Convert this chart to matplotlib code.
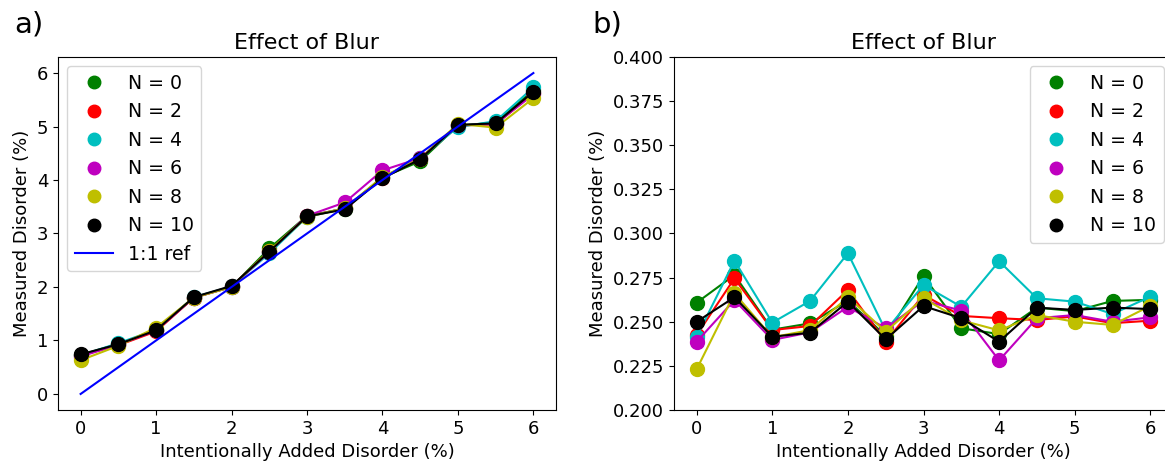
import numpy as np
import matplotlib
matplotlib.use("Agg")
import matplotlib.pyplot as plt

plt.rcParams['font.size'] = 13

# added disorder (%)
added = [0, 0.5, 1, 1.5, 2, 2.5, 3, 3.5, 4, 4.5, 5, 5.5, 6]
n_values = [0, 2, 4, 6, 8, 10]
colors = ['g', 'r', 'c', 'm', 'y', 'k']

# a) measured disorder, full range
meas_n0 = [0.73, 0.93, 1.20, 1.80, 2.00, 2.72, 3.33, 3.46, 4.05, 4.35, 5.02, 5.07, 5.68]
meas_n2 = [0.72, 0.91, 1.17, 1.80, 2.01, 2.67, 3.32, 3.47, 4.04, 4.40, 5.02, 5.04, 5.62]
meas_n4 = [0.72, 0.95, 1.20, 1.81, 2.01, 2.63, 3.31, 3.47, 4.05, 4.41, 4.99, 5.10, 5.73]
meas_n6 = [0.70, 0.92, 1.19, 1.80, 2.00, 2.66, 3.33, 3.58, 4.18, 4.41, 5.02, 5.05, 5.60]
meas_n8 = [0.63, 0.90, 1.24, 1.80, 2.00, 2.68, 3.31, 3.47, 4.06, 4.40, 5.05, 4.98, 5.53]
meas_n10 = [0.74, 0.93, 1.19, 1.81, 2.02, 2.66, 3.32, 3.45, 4.03, 4.39, 5.03, 5.06, 5.65]

# b) same thing, zoomed view
zoom_n0 = [0.2608, 0.2765, 0.2455, 0.2491, 0.2620, 0.2420, 0.2759, 0.2463, 0.2430, 0.2580, 0.2560, 0.2618, 0.2624]
zoom_n2 = [0.2425, 0.2746, 0.2453, 0.2476, 0.2680, 0.2387, 0.2652, 0.2533, 0.2520, 0.2510, 0.2530, 0.2492, 0.2506]
zoom_n4 = [0.2415, 0.2846, 0.2495, 0.2618, 0.2888, 0.2450, 0.2708, 0.2585, 0.2843, 0.2633, 0.2614, 0.2544, 0.2642]
zoom_n6 = [0.2387, 0.2623, 0.2397, 0.2440, 0.2585, 0.2463, 0.2620, 0.2563, 0.2281, 0.2520, 0.2538, 0.2500, 0.2525]
zoom_n8 = [0.2231, 0.2661, 0.2412, 0.2453, 0.2639, 0.2444, 0.2633, 0.2508, 0.2451, 0.2538, 0.2500, 0.2482, 0.2590]
zoom_n10 = [0.2500, 0.2639, 0.2415, 0.2438, 0.2614, 0.2400, 0.2589, 0.2520, 0.2387, 0.2580, 0.2567, 0.2580, 0.2572]

meas = [meas_n0, meas_n2, meas_n4, meas_n6, meas_n8, meas_n10]
zoom = [zoom_n0, zoom_n2, zoom_n4, zoom_n6, zoom_n8, zoom_n10]

fig = plt.figure(figsize=(11.65, 4.61), dpi=100)
ax1 = fig.add_axes([58 / 1165, 51 / 461, 498 / 1165, 353 / 461])
ax2 = fig.add_axes([674 / 1165, 51 / 461, 499 / 1165, 353 / 461])


def draw(ax, data):
    for n, c, y in zip(n_values, colors, data):
        ax.plot(added, y, color=c, lw=1.5)
        ax.plot(added, y, 'o', color=c, markersize=10, label=f"N = {n}")


# left panel
draw(ax1, meas)
ax1.plot([0, 6], [0, 6], color='b', lw=1.5, label="1:1 ref")
ax1.set_title("Effect of Blur", fontsize=16)
ax1.set_xlabel("Intentionally Added Disorder (%)")
ax1.set_ylabel("Measured Disorder (%)")
ax1.legend(loc='upper left', fontsize=13.6, markerscale=0.9)

# right panel
draw(ax2, zoom)
ax2.set_ylim(0.2, 0.4)
ax2.set_title("Effect of Blur", fontsize=16)
ax2.set_xlabel("Intentionally Added Disorder (%)")
ax2.set_ylabel("Measured Disorder (%)")
ax2.legend(loc='upper right', fontsize=13.6, markerscale=0.9)

fig.text(14 / 1165, 1 - 32 / 461, "a)", fontsize=21)
fig.text(592 / 1165, 1 - 32 / 461, "b)", fontsize=21)

fig.savefig("out.png", dpi=100)
